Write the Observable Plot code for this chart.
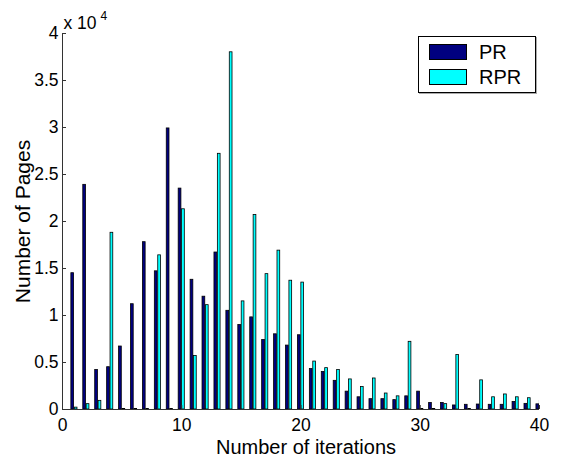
<!DOCTYPE html>
<html>
<head>
<meta charset="utf-8">
<script src="https://cdn.jsdelivr.net/npm/d3@7"></script>
<script src="https://cdn.jsdelivr.net/npm/@observablehq/plot@0.6"></script>
<style>
  body { margin: 0; background: #fff; }
  #wrap { position: relative; width: 565px; height: 457px; font-family: "Liberation Sans", Arial, Helvetica, sans-serif; }
  #legend { position: absolute; left: 418px; top: 36px; width: 116px; height: 55px; border: 1px solid #000; background: #fff; box-shadow: 1px 1px 0 #aaa; }
  .item { position: absolute; left: 10px; height: 16px; display: flex; align-items: center; }
  .sw { width: 38px; height: 16px; border: 1px solid #000; box-sizing: border-box; }
  .lab { margin-left: 12px; font-size: 20px; line-height: 16px; color: #000; }
</style>
</head>
<body>
<div id="wrap"></div>
<script>
const iterations = [1,2,3,4,5,6,7,8,9,10,11,12,13,14,15,16,17,18,19,20,21,22,23,24,25,26,27,28,29,30,31,32,33,34,35,36,37,38,39,40];
const prValues  = [14500,23900,4200,4500,6700,11200,17800,14700,29900,23500,13800,12000,16700,10500,9000,9800,7400,8000,6800,7900,4300,4000,3050,1900,1300,1100,1100,1000,1400,1900,700,700,430,500,530,500,500,800,600,550];
const rprValues = [200,570,920,18800,50,50,50,16400,50,21300,5700,11100,27200,38000,11500,20700,14400,16900,13700,13500,5100,4400,4200,3200,2400,3300,1700,1400,7200,50,50,570,5800,50,3100,1300,1600,1300,1200,900];
const seriesNames = ["PR", "RPR"];
const seriesColors = ["#000080", "#00ffff"];
const xTicks = [0, 10, 20, 30, 40];
const yTicks = [0, 5000, 10000, 15000, 20000, 25000, 30000, 35000, 40000];

// MATLAB grouped bar geometry: group width 0.571, bar width 0.8 of slot
const slot = 0.5714 / 2;
const barW = slot * 0.8;
const rows = [];
iterations.forEach((it, i) => {
  rows.push({it, s: 0, v: prValues[i]});
  rows.push({it, s: 1, v: rprValues[i]});
});
const off = s => (s - 0.5) * slot;

const chart = Plot.plot({
  width: 565,
  height: 457,
  marginLeft: 62,
  marginRight: 26,
  marginTop: 33,
  marginBottom: 48,
  style: {fontFamily: "'Liberation Sans', Arial, Helvetica, sans-serif", fontSize: "17px", color: "#000", background: "#fff"},
  x: {domain: [0, 40]},
  y: {domain: [0, 40000]},
  marks: [
    Plot.rectY(rows, {
      x1: d => d.it + off(d.s) - barW / 2,
      x2: d => d.it + off(d.s) + barW / 2,
      y1: 0,
      y2: "v",
      fill: d => seriesColors[d.s],
      stroke: "#000",
      strokeWidth: 0.8,
      clip: true
    }),
    Plot.ruleX([0], {stroke: "#333"}),
    Plot.ruleY([0], {stroke: "#333"}),
    // inward ticks
    Plot.axisY({ticks: yTicks, tickSize: 4, dx: 4, tickFormat: () => "", label: null, stroke: "#333"}),
    Plot.axisX({ticks: xTicks, tickSize: 4, dy: -4, tickFormat: () => "", label: null, stroke: "#333"}),
    // tick labels
    Plot.axisY({ticks: yTicks, tickSize: 0, tickPadding: 4, tickFormat: d => String(d / 10000), label: null, fontSize: 17.5}),
    Plot.axisX({ticks: xTicks, tickSize: 0, tickPadding: 9, tickFormat: d => String(d), label: null, fontSize: 17.5}),
    // axis labels
    Plot.text(["Number of Pages"], {frameAnchor: "left", rotate: -90, dx: -33, lineAnchor: "bottom", textAnchor: "middle", fontSize: 21}),
    Plot.text(["Number of iterations"], {frameAnchor: "bottom", dx: 5, dy: 44, lineAnchor: "bottom", textAnchor: "middle", fontSize: 20}),
    // exponent
    Plot.text(["x 10"], {frameAnchor: "top-left", dx: 1, dy: -5, lineAnchor: "bottom", textAnchor: "start", fontSize: 17.5}),
    Plot.text(["4"], {frameAnchor: "top-left", dx: 38, dy: -14, lineAnchor: "bottom", textAnchor: "start", fontSize: 12})
  ]
});

const wrap = document.getElementById("wrap");
wrap.appendChild(chart);
const legend = document.createElement("div");
legend.id = "legend";
seriesNames.forEach((name, i) => {
  const item = document.createElement("div");
  item.className = "item";
  item.style.top = (7 + i * 25) + "px";
  const sw = document.createElement("div");
  sw.className = "sw";
  sw.style.background = seriesColors[i];
  const lab = document.createElement("span");
  lab.className = "lab";
  lab.textContent = name;
  item.appendChild(sw);
  item.appendChild(lab);
  legend.appendChild(item);
});
wrap.appendChild(legend);
</script>
</body>
</html>
